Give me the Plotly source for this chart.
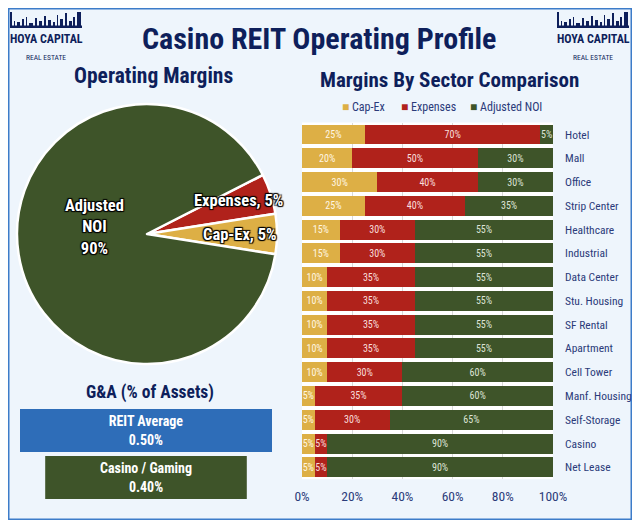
import plotly.graph_objects as go

# ---------------- data ----------------
pie_labels = ["Expenses", "Cap-Ex", "Adjusted NOI"]
pie_values = [5, 5, 90]

sectors = ["Hotel", "Mall", "Office", "Strip Center", "Healthcare", "Industrial",
           "Data Center", "Stu. Housing", "SF Rental", "Apartment", "Cell Tower",
           "Manf. Housing", "Self-Storage", "Casino", "Net Lease"]
capex = [25, 20, 30, 25, 15, 15, 10, 10, 10, 10, 10, 5, 5, 5, 5]
expenses = [70, 50, 40, 40, 30, 30, 35, 35, 35, 35, 30, 35, 30, 5, 5]
adj_noi = [5, 30, 30, 35, 55, 55, 55, 55, 55, 55, 60, 60, 65, 90, 90]

x_ticks = [0, 20, 40, 60, 80, 100]
x_tick_labels = ["0%", "20%", "40%", "60%", "80%", "100%"]

ga_labels = ["REIT Average", "Casino / Gaming"]
ga_values = [0.50, 0.40]

# ---------------- style ----------------
W, H = 624, 512
OFF = 8
NAVY = "#0E1F5B"
LBL = "#2B3B7A"
GOLD = "#DDAF45"
RED = "#B0221B"
GREEN = "#3E5429"
BLUE = "#2E6DB8"
BG = "#EEF5FC"
FONT = "Roboto Condensed, Roboto, sans-serif"


def px(x):
    return (x - OFF) / W


def py(y):
    return 1 - (y - OFF) / H


fig = go.Figure()

fig.add_trace(go.Pie(
    labels=pie_labels, values=pie_values, sort=False, direction="clockwise",
    rotation=63, marker=dict(colors=[RED, GOLD, GREEN], line=dict(color="white", width=2.5)),
    textinfo="none", hoverinfo="label+percent", showlegend=False,
    domain=dict(x=[px(17), px(277)], y=[py(364), py(104)]),
))

series = [("Cap-Ex", capex, GOLD, "#FFF6E2"),
          ("Expenses", expenses, RED, "#F8DEDC"),
          ("Adjusted NOI", adj_noi, GREEN, "#DDE3D6")]
for name, vals, col, tcol in series:
    fig.add_trace(go.Bar(
        y=sectors, x=vals, name=name, orientation="h", marker=dict(color=col, line=dict(width=0)),
        text=[f"{v}%" for v in vals], textposition="inside", insidetextanchor="middle", textangle=0,
        textfont=dict(family=FONT, size=10, color=tcol), showlegend=False,
        xaxis="x", yaxis="y",
    ))

fig.add_trace(go.Funnel(
    y=ga_labels, x=ga_values, xaxis="x2", yaxis="y2", showlegend=False,
    marker=dict(color=[BLUE, GREEN]), connector=dict(visible=False),
    texttemplate="<b>%{y}</b><br><b>%{x:.2f}%</b>", textposition="inside",
    insidetextanchor="middle", textangle=0,
    textfont=dict(family=FONT, size=14, color="white"),
))

annotations = []
annotations.append(dict(text="<b>Casino REIT Operating Profile</b>", x=px(319), y=py(38),
                        font=dict(family=FONT, size=30, color=NAVY)))
annotations.append(dict(text="<b>Operating Margins</b>", x=px(153), y=py(75),
                        font=dict(family=FONT, size=21.5, color=NAVY)))
annotations.append(dict(text="<b>Margins By Sector Comparison</b>", x=px(449), y=py(80),
                        font=dict(family=FONT, size=21, color=NAVY)))
annotations.append(dict(text="<b>G&A (% of Assets)</b>", x=px(150), y=py(392),
                        font=dict(family=FONT, size=17.5, color=NAVY)))
for cx in (46, 593):
    annotations.append(dict(text="<b>HOYA CAPITAL</b>", x=px(cx), y=py(39),
                            font=dict(family=FONT, size=12, color=NAVY)))
    annotations.append(dict(text="REAL ESTATE", x=px(cx), y=py(57),
                            font=dict(family=FONT, size=7.5, color=NAVY)))

# legend drawn from the series names and colours
leg_x = [340, 399, 468]
for (name, _, col, _), lx in zip(series, leg_x):
    annotations.append(dict(text=f"<span style='color:{col}'>■</span> {name}", x=px(lx), y=py(107),
                            xanchor="left", font=dict(family=FONT, size=12, color=LBL)))

shadow = "1px 1px 1px #000, -1px -1px 1px #000, 1px -1px 1px #000, -1px 1px 1px #000"
pie_font = dict(family=FONT, size=16.5, color="white", shadow=shadow)
annotations.append(dict(text=f"<b>Adjusted<br>NOI<br>{pie_values[2]}%</b>", x=px(94), y=py(227),
                        font=pie_font))
annotations.append(dict(text=f"<b>{pie_labels[0]}, {pie_values[0]}%</b>", x=px(238), y=py(200),
                        font=pie_font))
annotations.append(dict(text=f"<b>{pie_labels[1]}, {pie_values[1]}%</b>", x=px(240), y=py(234),
                        font=pie_font))

for a in annotations:
    a.setdefault("xanchor", "center")
    a.update(xref="paper", yref="paper", showarrow=False, yanchor="middle")

shapes = [dict(type="rect", xref="paper", yref="paper", x0=0, x1=1, y0=0, y1=1,
               line=dict(color="#3D7CC9", width=3), layer="below"),
          dict(type="rect", xref="x domain", yref="y domain", x0=0, x1=1, y0=0, y1=1,
               fillcolor="white", line=dict(width=0), layer="below")]
buildings = [(0, 2, 15), (4, 1, 6), (7, 3, 5), (12, 2, 8), (16, 1, 10), (19, 4, 4), (25, 2, 9),
             (29, 3, 6), (34, 2, 11), (38, 3, 7), (43, 2, 5), (47, 1, 12), (50, 3, 8), (55, 2, 14),
             (59, 3, 6), (63, 2, 10), (67, 4, 15)]
for lx in (10, 557):
    shapes.append(dict(type="rect", xref="paper", yref="paper", x0=px(lx), x1=px(lx + 72),
                       y0=py(28), y1=py(25.5), fillcolor=NAVY, line=dict(width=0)))
    for bx, bw, bh in buildings:
        shapes.append(dict(type="rect", xref="paper", yref="paper", x0=px(lx + bx), x1=px(lx + bx + bw),
                           y0=py(27), y1=py(27 - bh), fillcolor=NAVY, line=dict(width=0)))

fig.update_layout(
    width=W, height=H, margin=dict(l=0, r=0, t=0, b=0),
    paper_bgcolor=BG, plot_bgcolor="rgba(0,0,0,0)",
    barmode="stack", bargap=0.16, funnelgap=0.085,
    uniformtext=dict(minsize=10, mode="show"),
    font=dict(family=FONT, color=LBL), showlegend=False,
    annotations=annotations, shapes=shapes,
    xaxis=dict(domain=[px(302), px(553)], range=[0, 100], tickmode="array", tickvals=x_ticks,
               ticktext=x_tick_labels,
               showgrid=True, gridcolor="#D9D9D9", zeroline=False, showline=False,
               tickfont=dict(family=FONT, size=13.5, color=LBL), anchor="y", ticks="",
               ticklabelstandoff=7, automargin=False),
    yaxis=dict(domain=[py(479.2), py(122.6)], autorange="reversed", side="right", anchor="x",
               showgrid=False, tickfont=dict(family=FONT, size=11.5, color=LBL), ticks="",
               ticklabelstandoff=11, automargin=False),
    xaxis2=dict(domain=[px(20), px(272)], range=[-0.25, 0.25], visible=False, anchor="y2"),
    yaxis2=dict(domain=[py(501), py(407)], autorange="reversed", visible=False, anchor="x2"),
)

fig.write_html("out.html")
